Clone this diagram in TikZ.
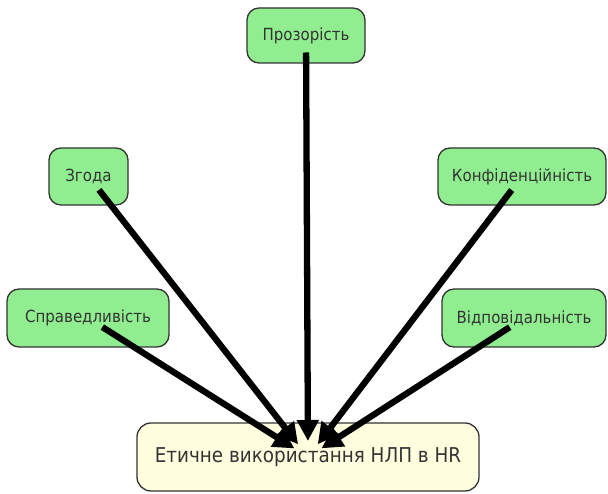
\documentclass[tikz,border=0pt]{standalone}
\usepackage{fontspec}
\setmainfont{DejaVu Sans}[FakeStretch=0.9]
\usetikzlibrary{arrows.meta}
\definecolor{boxgreen}{HTML}{90EE90}
\definecolor{boxyellow}{HTML}{FFFFE0}
\definecolor{edgegray}{HTML}{333333}
\definecolor{txtgray}{HTML}{333333}
\begin{document}
\begin{tikzpicture}[x=1pt,y=-1pt,
  topic/.style={draw=edgegray,line width=1.3pt,rounded corners=12pt,fill=boxgreen,
    text=txtgray,font=\fontsize{16.7}{19}\selectfont,inner sep=0pt},
  goal/.style={draw=edgegray,line width=1.3pt,rounded corners=14pt,fill=boxyellow,
    text=txtgray,font=\fontsize{20.4}{24}\selectfont,inner sep=0pt},
  link/.style={line width=6.3pt,black,-{Triangle[length=21pt,width=21pt]},
    shorten <=17pt,shorten >=16pt}]
\useasboundingbox (0,0) rectangle (608,494);
\node[topic,minimum width=118pt,minimum height=55pt] (p) at (306,35.5) {Прозорість};
\node[topic,minimum width=79pt,minimum height=57pt] (z) at (88.5,176.5) {Згода};
\node[topic,minimum width=168pt,minimum height=57pt] (k) at (522,176.5) {Конфіденційність};
\node[topic,minimum width=162pt,minimum height=58pt] (s) at (88,318) {Справедливість};
\node[topic,minimum width=164pt,minimum height=58pt] (v) at (524,318) {Відповідальність};
\node[goal,minimum width=342pt,minimum height=68pt] (e) at (308,457) {Етичне використання НЛП в HR};
\foreach \n in {p,z,k,s,v}
  \draw[link] (\n.center) -- (e.center);
\end{tikzpicture}
\end{document}
